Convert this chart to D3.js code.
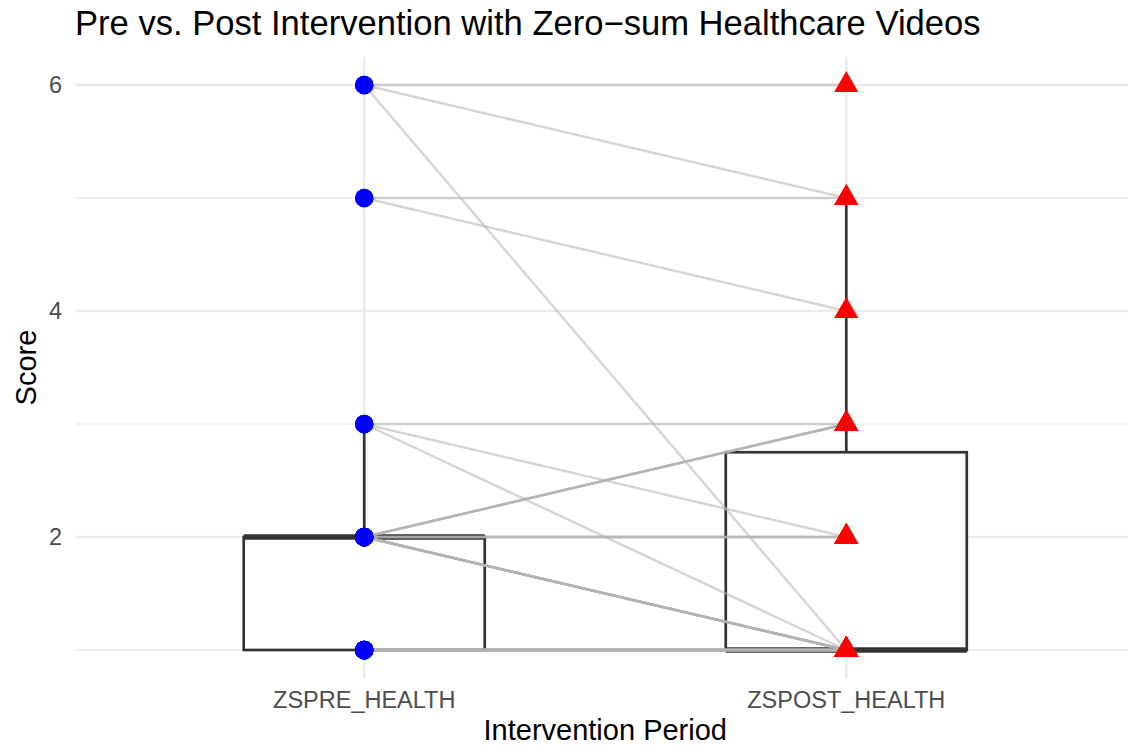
<!DOCTYPE html>
<html>
<head>
<meta charset="utf-8">
<script src="https://cdn.jsdelivr.net/npm/d3@7"></script>
<style>
  body { margin: 0; background: #fff; }
  text { font-family: "Liberation Sans", Arial, sans-serif; }
</style>
</head>
<body>
<script>
// categories on the x axis
const categories = ['ZSPRE_HEALTH', 'ZSPOST_HEALTH']
// paired scores, one entry per participant (same index = same person)
const preScores  = [6,6,6,5,5,3,3,3,2,2,2,2,2,2,2,2,2,2,2,2,2,2,1,1,1,1,1,1,1,1,1,1,1,1]
const postScores = [6,5,1,5,4,3,2,1,3,3,3,3,2,2,2,1,1,1,1,1,1,1,1,1,1,1,1,1,1,1,1,1,1,1]
const majorTicks = [2, 4, 6]
const minorTicks = [1, 3, 5]

const width = 1128
const height = 747
const panel = { left: 75, right: 1135.5, top: 56.75, bottom: 678.25 }

const svg = d3.select('body')
  .append('svg')
  .attr('width', width)
  .attr('height', height)

const x = d3.scalePoint()
  .domain(categories)
  .range([panel.left, panel.right])
  .padding(0.6)

const y = d3.scaleLinear()
  .domain([0.75, 6.25])
  .range([panel.bottom, panel.top])

const step = x.step()
const boxWidth = step * 0.5

// grid lines
svg.append('g').selectAll('line')
  .data(minorTicks)
  .enter().append('line')
  .attr('x1', panel.left).attr('x2', panel.right)
  .attr('y1', d => y(d)).attr('y2', d => y(d))
  .attr('stroke', '#ebebeb').attr('stroke-width', 1.3)

svg.append('g').selectAll('line')
  .data(majorTicks)
  .enter().append('line')
  .attr('x1', panel.left).attr('x2', panel.right)
  .attr('y1', d => y(d)).attr('y2', d => y(d))
  .attr('stroke', '#ebebeb').attr('stroke-width', 2.7)

svg.append('g').selectAll('line')
  .data(categories)
  .enter().append('line')
  .attr('x1', d => x(d)).attr('x2', d => x(d))
  .attr('y1', panel.top).attr('y2', panel.bottom)
  .attr('stroke', '#ebebeb').attr('stroke-width', 2.7)

// boxplot stats, R type 7 quantiles (same as d3.quantile)
function boxStats(values) {
  const s = values.slice().sort(d3.ascending)
  const q1 = d3.quantile(s, 0.25)
  const med = d3.quantile(s, 0.5)
  const q3 = d3.quantile(s, 0.75)
  const iqr = q3 - q1
  const lo = d3.min(s.filter(v => v >= q1 - 1.5 * iqr))
  const hi = d3.max(s.filter(v => v <= q3 + 1.5 * iqr))
  return { q1, med, q3, lo, hi }
}

const boxes = [
  { cat: categories[0], ...boxStats(preScores) },
  { cat: categories[1], ...boxStats(postScores) }
]

const boxG = svg.append('g').selectAll('g')
  .data(boxes)
  .enter().append('g')

boxG.append('line')  // upper whisker
  .attr('x1', d => x(d.cat)).attr('x2', d => x(d.cat))
  .attr('y1', d => y(d.q3)).attr('y2', d => y(d.hi))
  .attr('stroke', '#333333').attr('stroke-width', 2.7)

boxG.append('line')  // lower whisker
  .attr('x1', d => x(d.cat)).attr('x2', d => x(d.cat))
  .attr('y1', d => y(d.q1)).attr('y2', d => y(d.lo))
  .attr('stroke', '#333333').attr('stroke-width', 2.7)

boxG.append('rect')
  .attr('x', d => x(d.cat) - boxWidth / 2)
  .attr('width', boxWidth)
  .attr('y', d => y(d.q3))
  .attr('height', d => y(d.q1) - y(d.q3))
  .attr('fill', 'white')
  .attr('stroke', '#333333').attr('stroke-width', 2.7)

boxG.append('line')  // median
  .attr('x1', d => x(d.cat) - boxWidth / 2).attr('x2', d => x(d.cat) + boxWidth / 2)
  .attr('y1', d => y(d.med)).attr('y2', d => y(d.med))
  .attr('stroke', '#333333').attr('stroke-width', 5.3)

// paired lines pre -> post
const pairs = preScores.map((p, i) => ({ pre: p, post: postScores[i] }))

svg.append('g').selectAll('line')
  .data(pairs)
  .enter().append('line')
  .attr('x1', x(categories[0])).attr('x2', x(categories[1]))
  .attr('y1', d => y(d.pre)).attr('y2', d => y(d.post))
  .attr('stroke', '#b3b3b3')
  .attr('stroke-opacity', 0.55)
  .attr('stroke-width', 2.4)

// points
svg.append('g').selectAll('circle')
  .data(preScores)
  .enter().append('circle')
  .attr('cx', x(categories[0]))
  .attr('cy', d => y(d))
  .attr('r', 9.2)
  .attr('fill', '#0000ff')

const tri = d3.symbol().type(d3.symbolTriangle).size(255)
svg.append('g').selectAll('path')
  .data(postScores)
  .enter().append('path')
  .attr('d', tri)
  .attr('transform', d => 'translate(' + x(categories[1]) + ',' + y(d) + ')')
  .attr('fill', '#ff0000')

// axis labels (theme_minimal: no axis lines or ticks)
svg.append('g').selectAll('text')
  .data(majorTicks)
  .enter().append('text')
  .attr('x', 62)
  .attr('y', d => y(d))
  .attr('dy', '0.36em')
  .attr('text-anchor', 'end')
  .attr('font-size', 23.5)
  .attr('fill', '#4d4d4d')
  .text(d => d)

svg.append('g').selectAll('text')
  .data(categories)
  .enter().append('text')
  .attr('x', d => x(d))
  .attr('y', 708)
  .attr('text-anchor', 'middle')
  .attr('font-size', 23.5)
  .attr('fill', '#4d4d4d')
  .text(d => d)

svg.append('text')
  .attr('x', (panel.left + panel.right) / 2)
  .attr('y', 740)
  .attr('text-anchor', 'middle')
  .attr('font-size', 29)
  .attr('fill', '#000')
  .text('Intervention Period')

svg.append('text')
  .attr('transform', 'translate(36,' + (panel.top + panel.bottom) / 2 + ') rotate(-90)')
  .attr('text-anchor', 'middle')
  .attr('font-size', 29)
  .attr('fill', '#000')
  .text('Score')

svg.append('text')
  .attr('x', 75)
  .attr('y', 35)
  .attr('font-size', 34.6)
  .attr('fill', '#000')
  .text('Pre vs. Post Intervention with Zero\u2212sum Healthcare Videos')
</script>
</body>
</html>
